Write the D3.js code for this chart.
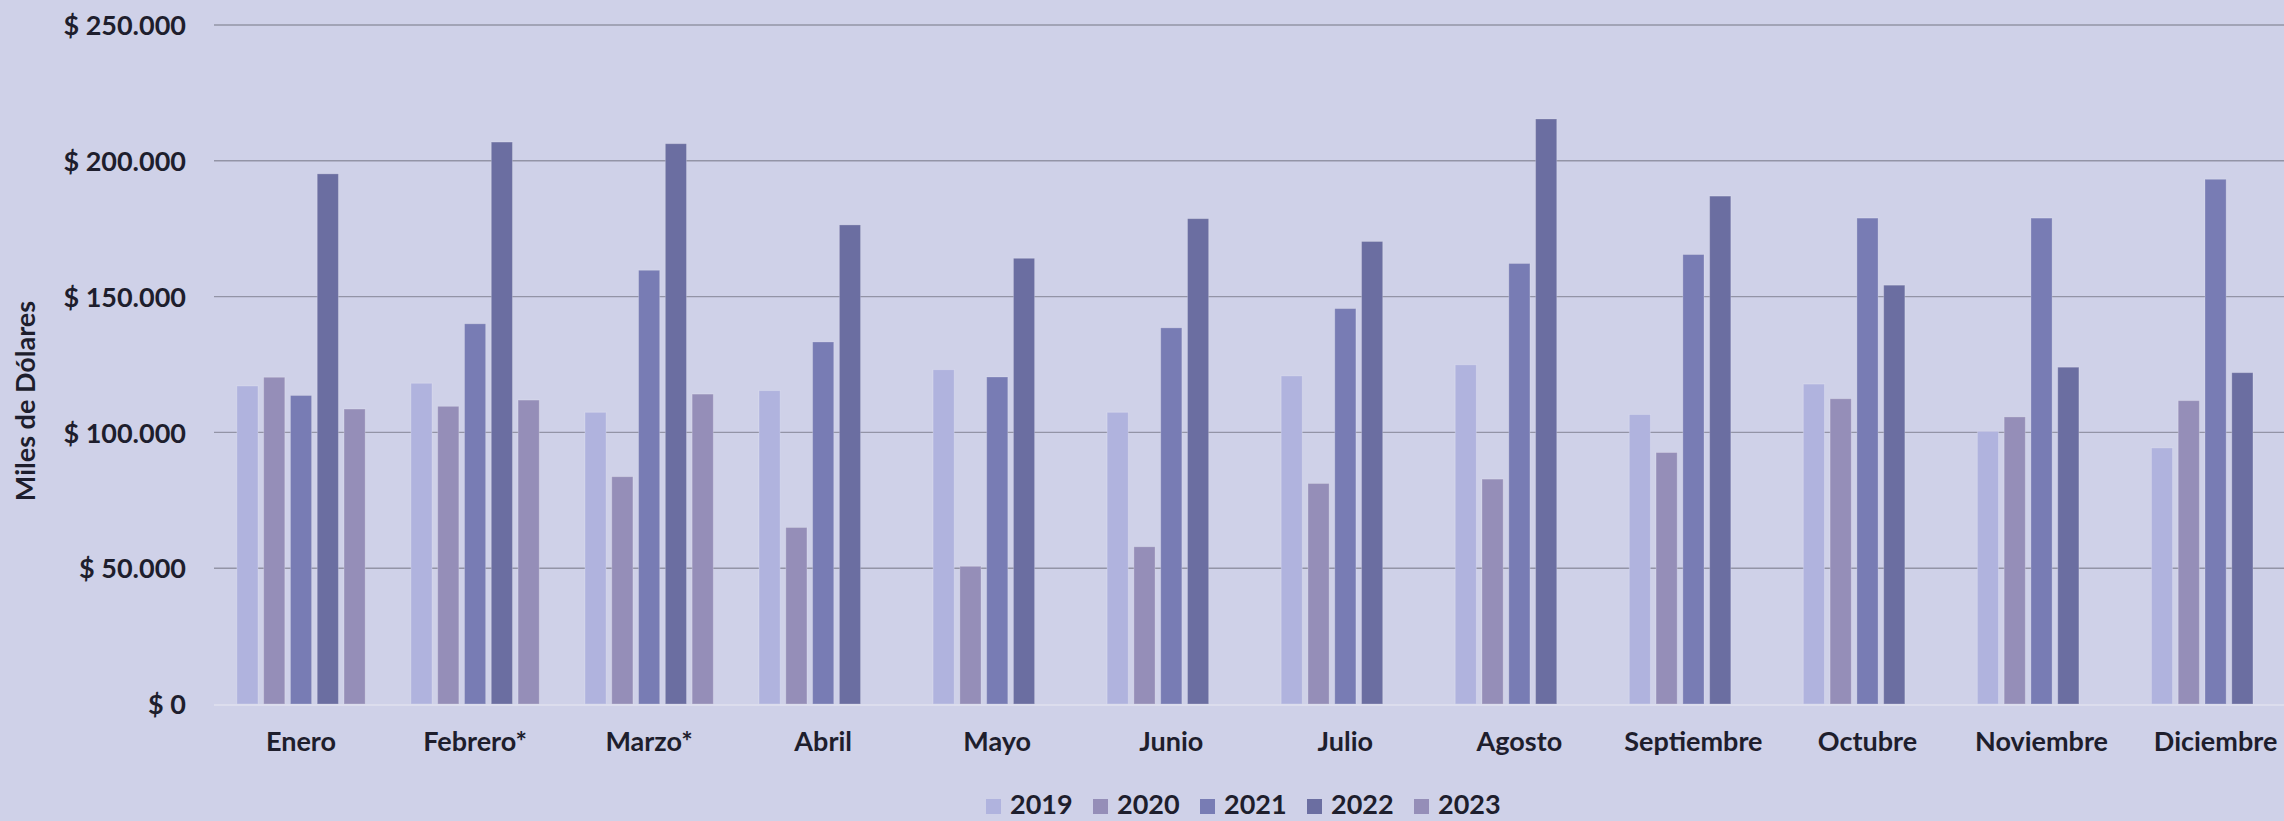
<!DOCTYPE html>
<html>
<head>
<meta charset="utf-8">
<script src="https://cdn.jsdelivr.net/npm/d3@7"></script>
<style>
  body { margin: 0; background: #cfd1e8; }
  svg { display: block; }
  text { font-family: Lato, "Open Sans", sans-serif; font-weight: bold; fill: #1e1e2d; }
</style>
</head>
<body>
<svg width="2284" height="821"></svg>
<script>
var months = ["Enero", "Febrero*", "Marzo*", "Abril", "Mayo", "Junio", "Julio", "Agosto", "Septiembre", "Octubre", "Noviembre", "Diciembre"];
var years = ["2019", "2020", "2021", "2022", "2023"];
var colors = ["#b0b3de", "#958eb8", "#787cb4", "#6b6ea1", "#958eb8"];

// miles de dolares
var v2019 = [117100, 118100, 107400, 115400, 123100, 107400, 120800, 124900, 106600, 117800, 100400, 94300];
var v2020 = [120300, 109600, 83700, 65000, 50700, 57900, 81200, 82800, 92600, 112400, 105700, 111700];
var v2021 = [113600, 140000, 159700, 133300, 120400, 138500, 145600, 162200, 165500, 178900, 178900, 193200];
var v2022 = [195200, 206900, 206300, 176400, 164100, 178700, 170300, 215400, 187000, 154200, 124000, 122000];
var v2023 = [108600, 111900, 114100, null, null, null, null, null, null, null, null, null];
var yTicks = [0, 50000, 100000, 150000, 200000, 250000];

var series = [v2019, v2020, v2021, v2022, v2023];

var svg = d3.select("svg"),
    plotLeft = 214,
    step = 174.05,
    plotTop = 25,
    plotBottom = 704,
    fontSize = "27px";

var x0 = d3.scaleBand()
    .domain(months)
    .range([plotLeft, plotLeft + step * months.length])
    .paddingInner(0.2626)
    .paddingOuter(0.1313);

var x1 = d3.scaleBand()
    .domain(years)
    .range([0, x0.bandwidth()])
    .paddingInner(0.21);

var y = d3.scaleLinear().domain([0, 250000]).range([plotBottom, plotTop]);

var fmt = function(d) {
    return "$ " + d3.format(",")(d).replace(/,/g, ".");
};

// grid lines
svg.append("g")
   .selectAll("line")
   .data(yTicks.slice(1))
   .enter().append("line")
   .attr("x1", plotLeft)
   .attr("x2", 2284)
   .attr("y1", function(d) { return y(d); })
   .attr("y2", function(d) { return y(d); })
   .attr("stroke", "#9394a6")
   .attr("stroke-width", 1.4);

// y axis labels
var yAxis = svg.append("g")
   .attr("transform", "translate(" + plotLeft + ",0)")
   .call(d3.axisLeft(y).tickValues(yTicks).tickFormat(fmt).tickSize(0).tickPadding(28));
yAxis.select(".domain").remove();
yAxis.selectAll("text")
   .attr("font-size", fontSize)
   .attr("font-family", "Lato, 'Open Sans', sans-serif")
   .attr("font-weight", "bold")
   .attr("fill", "#1e1e2d")
   .attr("dy", "0.36em");

// bars
var rows = [];
months.forEach(function(m, i) {
    years.forEach(function(yr, j) {
        if (series[j][i] != null) rows.push({ month: m, year: yr, idx: j, value: series[j][i] });
    });
});

svg.append("g")
   .selectAll("rect")
   .data(rows)
   .enter().append("rect")
   .attr("x", function(d) { return x0(d.month) + x1(d.year); })
   .attr("y", function(d) { return y(d.value); })
   .attr("width", x1.bandwidth())
   .attr("height", function(d) { return plotBottom - y(d.value); })
   .attr("fill", function(d) { return colors[d.idx]; })
   .attr("stroke", "rgba(255,255,255,0.22)")
   .attr("stroke-width", 1);

// baseline
svg.append("line")
   .attr("x1", plotLeft)
   .attr("x2", 2284)
   .attr("y1", plotBottom + 1)
   .attr("y2", plotBottom + 1)
   .attr("stroke", "#dcdded")
   .attr("stroke-width", 2);

// month labels
var xAxis = svg.append("g")
   .attr("transform", "translate(0," + plotBottom + ")")
   .call(d3.axisBottom(x0).tickSize(0).tickPadding(0));
xAxis.select(".domain").remove();
xAxis.selectAll("text")
   .attr("font-size", fontSize)
   .attr("font-family", "Lato, 'Open Sans', sans-serif")
   .attr("font-weight", "bold")
   .attr("fill", "#1e1e2d")
   .attr("y", 47)
   .attr("dy", 0);

// y title
svg.append("text")
   .attr("transform", "translate(35,401) rotate(-90)")
   .attr("text-anchor", "middle")
   .attr("font-size", fontSize)
   .text("Miles de Dólares");

// legend
var legend = svg.append("g")
   .selectAll("g")
   .data(years)
   .enter().append("g")
   .attr("transform", function(d, i) { return "translate(" + (986 + i * 107) + ",0)"; });

legend.append("rect")
   .attr("y", 799)
   .attr("width", 15)
   .attr("height", 15)
   .attr("fill", function(d, i) { return colors[i]; });

legend.append("text")
   .attr("x", 24)
   .attr("y", 814)
   .attr("font-size", fontSize)
   .text(function(d) { return d; });
</script>
</body>
</html>
